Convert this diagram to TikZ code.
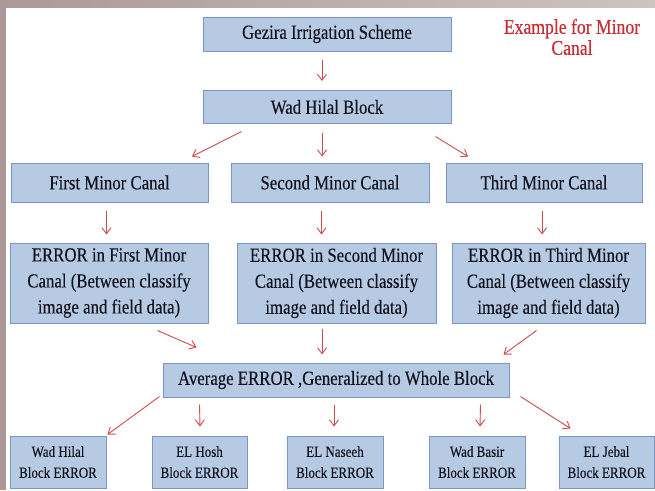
\documentclass[tikz,border=0pt]{standalone}
\usepackage{fontspec}
\setmainfont[FakeStretch=0.84,FakeBold=0.3]{Liberation Serif}
\usetikzlibrary{arrows.meta,calc}
\definecolor{boxfill}{RGB}{182,202,228}
\definecolor{boxline}{RGB}{120,150,192}
\definecolor{arrred}{RGB}{205,75,75}
\definecolor{txtred}{RGB}{200,45,50}
\definecolor{bandL}{RGB}{172,152,152}
\definecolor{bandR}{RGB}{205,195,195}
\definecolor{boxtxt}{RGB}{20,20,30}
\begin{document}
\begin{tikzpicture}[x=1pt,y=-1pt,
 box/.style={draw=boxline, fill=boxfill, line width=1pt, inner sep=0pt, align=center, text=boxtxt, font=\fontsize{20}{26}\selectfont},
 sbox/.style={box, font=\fontsize{15.5}{21}\selectfont},
 arr/.style={draw=arrred, line width=0.9pt, -{Straight Barb[length=6pt,width=9pt]}}]
\useasboundingbox (0,0) rectangle (655,490);
\fill[white] (0,0) rectangle (655,490);
\shade[left color=bandL, right color=bandR] (0,0) rectangle (655,7);
\fill[bandL] (0,0) rectangle (6,490);

\node[box, minimum width=248, minimum height=34] (gez) at (327,34) {Gezira Irrigation Scheme};
\node[box, minimum width=248, minimum height=33] (wad) at (327,107) {Wad Hilal Block};
\node[align=center, text=txtred, font=\fontsize{21}{21}\selectfont] (ex) at (572,37) {Example for Minor\\Canal};

\node[box, minimum width=197, minimum height=39] (m1) at (109.5,182.5) {First Minor Canal};
\node[box, minimum width=198, minimum height=39] (m2) at (330,182.5) {Second Minor Canal};
\node[box, minimum width=196, minimum height=39] (m3) at (544,182.5) {Third Minor Canal};

\node[box, minimum width=198, minimum height=80] (e1) at (109,283) {ERROR in First Minor\\Canal (Between classify\\image and field data)};
\node[box, minimum width=199, minimum height=80] (e2) at (336.5,283) {ERROR in Second Minor\\Canal (Between classify\\image and field data)};
\node[box, minimum width=193, minimum height=80] (e3) at (548.5,283) {ERROR in Third Minor\\Canal (Between classify\\image and field data)};

\node[box, minimum width=346, minimum height=34] (avg) at (336,380) {Average ERROR ,Generalized to Whole Block};

\node[sbox, minimum width=96, minimum height=52] (b1) at (58,462) {Wad Hilal\\Block ERROR};
\node[sbox, minimum width=95, minimum height=52] (b2) at (199.5,462) {EL Hosh\\Block ERROR};
\node[sbox, minimum width=96, minimum height=52] (b3) at (335,462) {EL Naseeh\\Block ERROR};
\node[sbox, minimum width=96, minimum height=52] (b4) at (477,462) {Wad Basir\\Block ERROR};
\node[sbox, minimum width=95, minimum height=52] (b5) at (606.5,462) {EL Jebal\\Block ERROR};

\draw[arr] ($(gez.south)+(-5,8)$) -- ($(wad.north)+(-5,-9)$);
\draw[arr] ($(wad.south west)+(39,7.5)$) -- ($(m1.north)+(82.5,-6)$);
\draw[arr] ($(wad.south)+(-5,8.5)$) -- ($(m2.north)+(-8,-6)$);
\draw[arr] ($(wad.south east)+(-16,12.5)$) -- ($(m3.north)+(-76,-6)$);

\draw[arr] ($(m1.south)+(-3,8)$) -- ($(e1.north)+(-2.5,-8)$);
\draw[arr] ($(m2.south)+(-8.5,8)$) -- ($(e2.north)+(-15,-8)$);
\draw[arr] ($(m3.south)+(-2,8)$) -- ($(e3.north)+(-6.5,-8)$);

\draw[arr] ($(e1.south east)+(-51,7)$) -- ($(avg.north west)+(34,-15)$);
\draw[arr] ($(e2.south)+(-14.5,5)$) -- ($(avg.north)+(-14,-8)$);
\draw[arr] ($(e3.south west)+(85,7)$) -- ($(avg.north east)+(-6,-8)$);

\draw[arr] ($(avg.south west)+(-3,-1)$) -- ($(b1.north east)+(1,-1)$);
\draw[arr] ($(avg.south west)+(37,7)$) -- ($(b2.north)+(0.5,-9)$);
\draw[arr] ($(avg.south)+(-2,7)$) -- ($(b3.north)+(-1,-9)$);
\draw[arr] ($(avg.south east)+(-29,7)$) -- ($(b4.north)+(3,-9)$);
\draw[arr] ($(avg.south east)+(11,-1)$) -- ($(b5.north west)+(12,-7)$);
\end{tikzpicture}
\end{document}
